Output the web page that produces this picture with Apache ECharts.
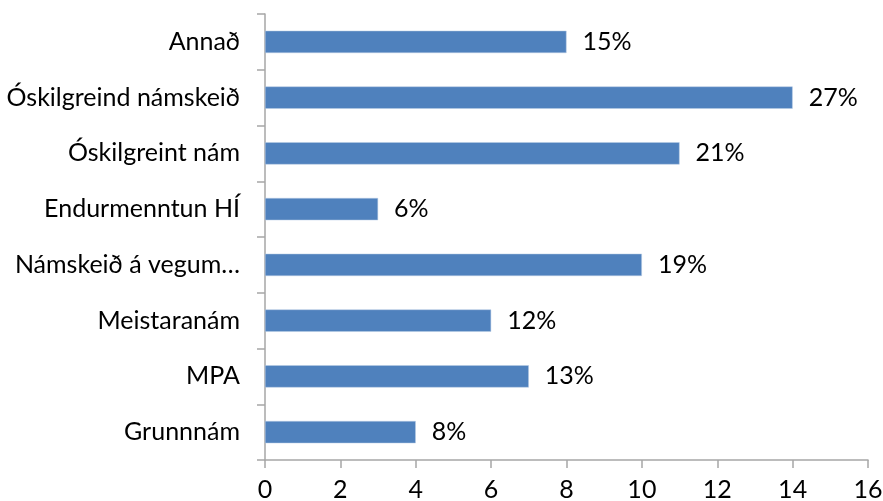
<!DOCTYPE html>
<html>
<head>
<meta charset="utf-8">
<script src="https://cdn.jsdelivr.net/npm/echarts@6/dist/echarts.min.js"></script>
<style>html,body{margin:0;padding:0;background:#fff}#c{width:883px;height:501px}</style>
</head>
<body>
<div id="c"></div>
<script>
const categories = ["Grunnnám", "MPA", "Meistaranám", "Námskeið á vegum…", "Endurmenntun HÍ", "Óskilgreint nám", "Óskilgreind námskeið", "Annað"];
const values = [4, 7, 6, 10, 3, 11, 14, 8];
const percentLabels = ["8%", "13%", "12%", "19%", "6%", "21%", "27%", "15%"];
const xTicks = [0, 2, 4, 6, 8, 10, 12, 14, 16];

const FONT = "Lato, 'Open Sans', sans-serif";
const chart = echarts.init(document.getElementById('c'));
chart.setOption({
  animation: false,
  backgroundColor: '#ffffff',
  grid: { left: 265, right: 15, top: 14, bottom: 41, containLabel: false, outerBoundsMode: 'none' },
  xAxis: {
    type: 'value', min: xTicks[0], max: xTicks[xTicks.length - 1], interval: 2,
    axisLine: { show: true, lineStyle: { color: '#a6a6a6', width: 1.5 } },
    axisTick: { show: true, length: 8, lineStyle: { color: '#a6a6a6', width: 1.5 } },
    splitLine: { show: false },
    axisLabel: { color: '#000', fontSize: 25, fontFamily: FONT, margin: 17 }
  },
  yAxis: {
    type: 'category', data: categories,
    axisLine: { show: true, lineStyle: { color: '#a6a6a6', width: 1.5 } },
    axisTick: { show: true, length: 8, lineStyle: { color: '#a6a6a6', width: 1.5 } },
    axisLabel: { color: '#000', fontSize: 25, fontFamily: FONT, margin: 25 }
  },
  series: [{
    type: 'bar', data: values, barCategoryGap: '60%',
    itemStyle: { color: '#4f81bd', borderColor: '#b9cde5', borderWidth: 0.5 },
    label: {
      show: true, position: 'right', distance: 16, color: '#000', fontSize: 25, fontFamily: FONT,
      formatter: p => percentLabels[p.dataIndex]
    }
  }]
});
</script>
</body>
</html>
